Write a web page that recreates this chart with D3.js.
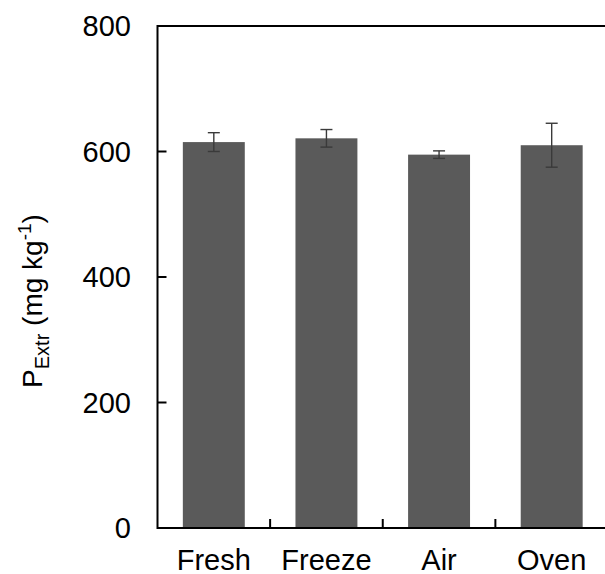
<!DOCTYPE html>
<html>
<head>
<meta charset="utf-8">
<script src="https://cdn.jsdelivr.net/npm/d3@7"></script>
<style>
  html, body { margin: 0; padding: 0; background: #fff; }
  svg { display: block; font-family: Arial, "Liberation Sans", sans-serif; }
</style>
</head>
<body>
<div id="chart"></div>
<script>
// drying treatments and extractable P (mean +/- error)
const categories = ['Fresh', 'Freeze', 'Air', 'Oven'];
const means = [615, 621, 595, 610];
const errors = [15, 14, 6, 35];
const yTicks = [0, 200, 400, 600, 800];

const width = 605, height = 574;
const margin = { top: 26, right: -3, bottom: 46, left: 157.5 };

const svg = d3.select('#chart').append('svg')
    .attr('width', width)
    .attr('height', height);

const x = d3.scaleBand()
    .domain(categories)
    .range([margin.left, width - margin.right])
    .paddingInner(0.45)
    .paddingOuter(0.225);

const y = d3.scaleLinear()
    .domain([0, 800])
    .range([height - margin.bottom, margin.top]);

// bars
svg.selectAll('rect.bar')
    .data(categories)
    .enter()
    .append('rect')
    .attr('class', 'bar')
    .attr('x', d => x(d))
    .attr('y', (d, i) => y(means[i]))
    .attr('width', x.bandwidth())
    .attr('height', (d, i) => y(0) - y(means[i]))
    .attr('fill', '#5a5a5a');

// error bars
const eb = svg.selectAll('g.err')
    .data(categories)
    .enter()
    .append('g')
    .attr('class', 'err')
    .attr('stroke', '#3a3a3a')
    .attr('stroke-width', 1.4);

eb.append('line')
    .attr('x1', d => x(d) + x.bandwidth() / 2)
    .attr('x2', d => x(d) + x.bandwidth() / 2)
    .attr('y1', (d, i) => y(means[i] + errors[i]))
    .attr('y2', (d, i) => y(means[i] - errors[i]));

[1, -1].forEach(s => {
    eb.append('line')
        .attr('x1', d => x(d) + x.bandwidth() / 2 - 6)
        .attr('x2', d => x(d) + x.bandwidth() / 2 + 6)
        .attr('y1', (d, i) => y(means[i] + s * errors[i]))
        .attr('y2', (d, i) => y(means[i] + s * errors[i]));
});

// frame: left, top, bottom
const x0 = margin.left, y0 = y(0), yTop = y(800);
svg.append('path')
    .attr('d', `M${width + 5},${yTop}H${x0}V${y0}H${width + 5}`)
    .attr('fill', 'none')
    .attr('stroke', '#000')
    .attr('stroke-width', 2);

// y ticks (inward) and labels
const yAxis = svg.append('g');
yAxis.selectAll('line')
    .data(yTicks.filter(t => t > 0 && t < 800))
    .enter()
    .append('line')
    .attr('x1', x0).attr('x2', x0 + 9)
    .attr('y1', d => y(d)).attr('y2', d => y(d))
    .attr('stroke', '#000').attr('stroke-width', 2);

yAxis.selectAll('text')
    .data(yTicks)
    .enter()
    .append('text')
    .attr('x', 131)
    .attr('y', d => y(d))
    .attr('text-anchor', 'end')
    .attr('dy', '0.36em')
    .attr('font-size', 29)
    .attr('fill', '#000')
    .text(d => d);

// x ticks between categories
const step = x.step();
svg.selectAll('line.xtick')
    .data(categories.slice(1))
    .enter()
    .append('line')
    .attr('class', 'xtick')
    .attr('x1', d => x(d) - step * x.paddingInner() / 2)
    .attr('x2', d => x(d) - step * x.paddingInner() / 2)
    .attr('y1', y0).attr('y2', y0 - 9)
    .attr('stroke', '#000').attr('stroke-width', 2);

svg.selectAll('text.xlab')
    .data(categories)
    .enter()
    .append('text')
    .attr('class', 'xlab')
    .attr('x', d => x(d) + x.bandwidth() / 2)
    .attr('y', 570)
    .attr('text-anchor', 'middle')
    .attr('font-size', 29)
    .attr('fill', '#000')
    .text(d => d);

// y title: P_Extr (mg kg^-1)
const title = svg.append('text')
    .attr('transform', `translate(42,301) rotate(-90)`)
    .attr('text-anchor', 'middle')
    .attr('font-size', 28)
    .attr('fill', '#000');
title.append('tspan').text('P');
title.append('tspan').attr('font-size', 20).attr('dy', 7).text('Extr');
title.append('tspan').attr('dy', -7).text(' (mg kg');
title.append('tspan').attr('font-size', 19).attr('dy', -11).text('-1');
title.append('tspan').attr('dy', 11).text(')');
</script>
</body>
</html>
